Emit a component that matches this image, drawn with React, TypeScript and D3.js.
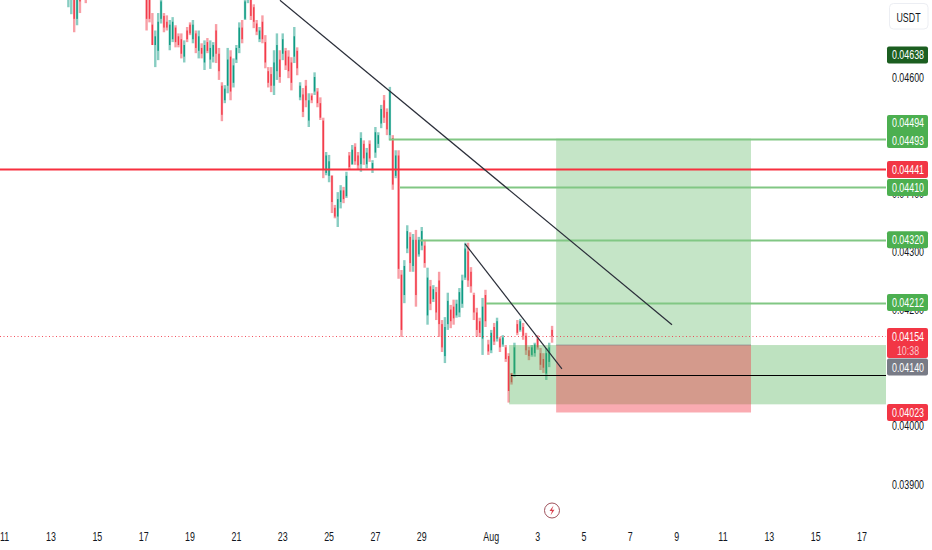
import React from "react";
import * as d3 from "d3";

// Prices in units of 0.00001 USDT, as [open, high, low, close]; one candle every 3 hours from Jul 13 18:00.
const candlesOffTop = [
  [4740,4790,4720,4770],[4750,4800,4708,4785],[4770,4790,4677,4700],[4700,4770,4689,4760],[4770,4790,4710,4730],
  [4775,4800,4745,4755],[4760,4775,4727,4735],[4765,4790,4745,4780],[4785,4810,4760,4770],[4770,4800,4750,4795],
  [4795,4830,4780,4820],[4820,4840,4790,4800],[4800,4825,4775,4815],[4815,4850,4800,4840],[4840,4860,4810,4820],
  [4820,4840,4790,4800],[4800,4820,4770,4785],[4785,4815,4760,4810],[4810,4830,4785,4795],[4795,4810,4770,4780],
  [4780,4805,4760,4800],[4800,4820,4775,4785],[4785,4800,4755,4770],[4770,4795,4750,4785],[4785,4800,4760,4770],
  [4770,4790,4745,4755],[4755,4775,4740,4745],
];
const candlesMidJuly = [
  [4735,4745,4680,4700],[4740,4750,4694,4700],[4690,4710,4655,4655],[4655,4680,4617,4670],[4645,4710,4629,4695],
  [4700,4740,4692,4730],[4705,4710,4677,4685],[4695,4706,4680,4685],[4655,4698,4646,4690],[4665,4703,4660,4695],
  [4685,4689,4651,4660],[4670,4675,4651,4655],[4665,4675,4632,4640],[4635,4663,4625,4655],[4680,4686,4660,4665],
  [4690,4694,4672,4675],[4665,4698,4658,4690],[4675,4680,4641,4650],[4645,4680,4632,4670],[4650,4658,4632,4640],
  [4625,4663,4612,4655],[4660,4667,4641,4645],[4630,4663,4614,4650],[4635,4660,4625,4655],[4680,4691,4624,4640],
  [4640,4650,4595,4610],[4585,4591,4524,4535],[4560,4586,4555,4580],[4585,4650,4572,4630],[4635,4646,4560,4575],
  [4590,4632,4582,4620],[4630,4655,4624,4650],[4650,4694,4641,4685],[4685,4698,4658,4665],[4700,4740,4698,4730],
  [4735,4760,4727,4750],[4735,4745,4698,4705],[4720,4725,4684,4695],[4692,4698,4672,4678],[4665,4686,4660,4680],
];
const candlesLateJuly = [
  [4695,4706,4658,4665],[4660,4672,4615,4625],[4610,4617,4582,4590],[4605,4617,4574,4585],[4585,4646,4569,4625],
  [4610,4675,4595,4655],[4630,4646,4590,4600],[4640,4675,4629,4665],[4645,4650,4612,4620],[4635,4646,4598,4610],
  [4625,4634,4577,4590],[4635,4686,4624,4670],[4645,4651,4603,4615],[4565,4591,4560,4585],[4570,4581,4531,4540],
  [4585,4595,4548,4560],[4525,4572,4514,4560],[4568,4572,4555,4560],[4575,4608,4569,4600],[4575,4581,4548,4555],
  [4555,4565,4526,4530],[4525,4530,4426,4440],[4435,4471,4431,4465],[4430,4466,4419,4455],[4430,4431,4366,4385],
  [4375,4380,4357,4360],[4360,4402,4342,4390],[4385,4414,4374,4405],[4405,4411,4383,4390],[4395,4437,4392,4430],
  [4465,4471,4440,4445],[4450,4483,4449,4475],[4480,4486,4449,4455],[4465,4471,4440,4448],[4450,4505,4437,4495],
  [4485,4491,4449,4460],[4450,4478,4443,4470],[4485,4491,4454,4460],[4440,4457,4435,4452],[4470,4514,4461,4505],
  [4485,4505,4478,4500],[4520,4552,4512,4545],[4560,4569,4521,4530],[4540,4546,4500,4510],[4500,4583,4491,4575],
  [4495,4500,4406,4415],[4430,4474,4426,4465],[4465,4474,4253,4270],[4260,4268,4153,4165],[4225,4285,4211,4275],
  [4305,4345,4297,4335],[4325,4333,4265,4280],[4275,4330,4265,4320],[4320,4337,4205,4225],[4295,4325,4291,4320],
  [4310,4342,4302,4335],[4310,4320,4272,4280],[4190,4272,4174,4255],[4240,4251,4199,4210],[4218,4242,4213,4235],
  [4230,4239,4182,4195],[4250,4265,4153,4175],[4175,4182,4127,4135],[4120,4187,4108,4170],[4175,4229,4165,4215],
  [4200,4208,4168,4180],[4205,4217,4174,4185],[4190,4217,4186,4210],[4195,4237,4187,4230],[4210,4260,4203,4250],
];
const candlesAugust = [
  [4255,4315,4251,4305],[4300,4315,4239,4250],[4265,4273,4229,4240],[4225,4229,4182,4195],[4195,4203,4153,4165],
  [4180,4186,4153,4160],[4150,4220,4122,4205],[4225,4234,4170,4180],[4140,4148,4122,4128],[4130,4165,4125,4160],
  [4170,4177,4139,4145],[4150,4186,4145,4180],[4150,4153,4127,4135],[4140,4156,4136,4152],[4135,4139,4110,4115],
  [4120,4125,4040,4060],[4090,4091,4071,4075],[4090,4143,4084,4135],[4175,4182,4156,4160],[4165,4184,4162,4180],
  [4170,4177,4148,4155],[4155,4160,4122,4130],[4130,4136,4113,4120],[4122,4139,4119,4135],[4125,4143,4119,4140],
  [4150,4156,4131,4135],[4125,4134,4096,4105],[4115,4125,4091,4100],[4090,4134,4079,4125],[4110,4143,4101,4135],
  [4165,4172,4143,4154],
];
const candleRows = [...candlesOffTop, ...candlesMidJuly, ...candlesLateJuly, ...candlesAugust];

// Drawings: day numbers count from July 1 (Aug 1 is 32).
const trendLines = [
  { from: [22.88, 0.04732], to: [39.8, 0.04174] },
  { from: [30.87, 0.04313], to: [35.05, 0.04098] },
];
const greenLevels = [[27.59, 0.04493], [28.06, 0.0441], [28.93, 0.0432], [31.77, 0.04212]];
const blackLevel = [32.85, 0.04088];
const resistancePrice = 0.04441;
const lastPrice = 0.04154;
const targetBox = { d0: 34.8, d1: 43.21, top: 0.04494, bottom: 0.04139 };
const stopBox = { d0: 34.8, d1: 43.21, top: 0.04139, bottom: 0.04023 };
const zoneBox = { d0: 32.77, top: 0.04139, bottom: 0.04037 };

const priceTicks = [0.046, 0.045, 0.044, 0.043, 0.042, 0.041, 0.04, 0.039];
const timeDays = [11, 13, 15, 17, 19, 21, 23, 25, 27, 29, 32, 34, 36, 38, 40, 42, 44, 46, 48];
const timeLabels = ["11", "13", "15", "17", "19", "21", "23", "25", "27", "29", "Aug", "3", "5", "7", "9", "11", "13", "15", "17"];

const tagPrices = [0.04638, 0.04494, 0.04493, 0.04441, 0.0441, 0.0432, 0.04212, 0.04154, 0.0414, 0.04023];
const tagLabels = ["0.04638", "0.04494", "0.04493", "0.04441", "0.04410", "0.04320", "0.04212", "0.04154", "0.04140", "0.04023"];
const tagFills = ["#1b5e20", "#4caf50", "#4caf50", "#f23645", "#4caf50", "#4caf50", "#4caf50", "#f23645", "#787b86", "#f23645"];
const tagShifts = [0, -16, 1, 0, 0, 0, 0, 0, 22.5, 0];

const at = (d: number) => new Date(Date.UTC(2025, 6, 1) + (d - 1) * 864e5);
const x = d3.scaleUtc().domain([at(13), at(48)]).range([51, 862]);
const y = d3.scaleLinear().domain([0.046, 0.039]).range([77, 484]);
const px = (d: number) => x(at(d));
const snap = (p: number) => Math.round(y(p)) + 0.5;
const PANE_RIGHT = 886;
const FONT = "'Liberation Sans', Arial, sans-serif";
const UP = "#089981";
const DOWN = "#f23645";
const INK = "#131722";

function Squeezed({ cx, cy, fill, children, size = 12 }: any) {
  return (
    <text transform={`translate(${cx},${cy}) scale(0.74,1)`} textAnchor="middle" dominantBaseline="central"
      fontFamily={FONT} fontSize={size} fill={fill}>{children}</text>
  );
}

export default function App() {
  const candles = candleRows.map(([o, h, l, c], i) => ({
    o: o / 1e5, h: h / 1e5, l: l / 1e5, c: c / 1e5,
    x: px(13.75 + i / 8),
  }));
  const line = d3.line<number[]>().x((p) => px(p[0])).y((p) => y(p[1]));
  return (
    <svg width={932} height={550} style={{ position: "absolute", left: 0, top: 0, background: "#fff" }}>
      <defs><clipPath id="pane"><rect x={0} y={0} width={PANE_RIGHT} height={500} /></clipPath></defs>
      <g clipPath="url(#pane)">
        {candles.map((k, i) => {
          const col = k.c >= k.o ? UP : DOWN;
          return (
            <g key={i}>
              <line x1={k.x} x2={k.x} y1={y(k.h)} y2={y(k.l)} stroke={col} strokeWidth={2.4} opacity={0.48} />
              <rect x={k.x - 0.7} width={1.4} y={y(Math.max(k.o, k.c))} height={Math.max(1, Math.abs(y(k.o) - y(k.c)))} fill={col} opacity={0.95} />
            </g>
          );
        })}
        <rect x={px(zoneBox.d0)} width={PANE_RIGHT - px(zoneBox.d0)} y={y(zoneBox.top)} height={y(zoneBox.bottom) - y(zoneBox.top)} fill="#4caf50" opacity={0.36} />
        <rect x={px(targetBox.d0)} width={px(targetBox.d1) - px(targetBox.d0)} y={y(targetBox.top)} height={y(targetBox.bottom) - y(targetBox.top)} fill="#4caf50" opacity={0.32} />
        <rect x={px(stopBox.d0)} width={px(stopBox.d1) - px(stopBox.d0)} y={y(stopBox.top)} height={y(stopBox.bottom) - y(stopBox.top)} fill="#f23645" opacity={0.42} />
        <line x1={px(targetBox.d0)} x2={px(targetBox.d1)} y1={y(stopBox.top)} y2={y(stopBox.top)} stroke="#787b86" strokeWidth={1} opacity={0.6} />
        <line x1={0} x2={PANE_RIGHT} y1={snap(lastPrice)} y2={snap(lastPrice)} stroke={DOWN} strokeWidth={1} strokeDasharray="1 2.5" opacity={0.85} />
        <line x1={0} x2={PANE_RIGHT} y1={snap(resistancePrice)} y2={snap(resistancePrice)} stroke="#f7303f" strokeWidth={1.8} />
        {greenLevels.map(([d, p], i) => (
          <line key={i} x1={px(d)} x2={PANE_RIGHT} y1={snap(p)} y2={snap(p)} stroke="#81c784" strokeWidth={1.8} />
        ))}
        <line x1={px(blackLevel[0])} x2={PANE_RIGHT} y1={snap(blackLevel[1])} y2={snap(blackLevel[1])} stroke="#000" strokeWidth={1.2} />
        {trendLines.map((t, i) => (
          <path key={i} d={line([t.from, t.to]) ?? ""} fill="none" stroke="#2a2e39" strokeWidth={1.2} />
        ))}
      </g>

      {priceTicks.map((p) => (
        <Squeezed key={p} cx={908} cy={y(p)} fill={INK}>{p.toFixed(5)}</Squeezed>
      ))}
      {tagLabels.map((label, i) => {
        if (i === 1) return null;
        const cy = y(tagPrices[i]) + tagShifts[i];
        const h = i === 2 ? 33 : i === 7 ? 30 : 17;
        const top = i === 2 ? 115 : i === 7 ? 328 : cy - 8.5;
        return <rect key={label} x={887} y={top} width={41} height={h} rx={2} fill={tagFills[i]} />;
      })}
      {tagLabels.map((label, i) => (
        <Squeezed key={label} cx={908} cy={y(tagPrices[i]) + tagShifts[i]} fill="#fff">{label}</Squeezed>
      ))}
      <Squeezed cx={908} cy={350} fill="#fbc5ca">10:38</Squeezed>

      <rect x={889.5} y={3.5} width={38.5} height={25.5} rx={4} fill="#fff" stroke="#eceef3" />
      <Squeezed cx={908.5} cy={17} fill={INK}>USDT</Squeezed>

      {timeDays.map((d, i) => (
        <Squeezed key={i} cx={px(d)} cy={536} fill={INK}>{timeLabels[i]}</Squeezed>
      ))}

      <circle cx={552} cy={510.5} r={7.5} fill="#fff" stroke="#a0525c" strokeWidth={1} />
      <path d="M553.5 505.5 L549.5 511 L552 511 L550.5 515.5 L554.5 509.8 L552 509.8 Z" fill="#d9424f" />
    </svg>
  );
}
